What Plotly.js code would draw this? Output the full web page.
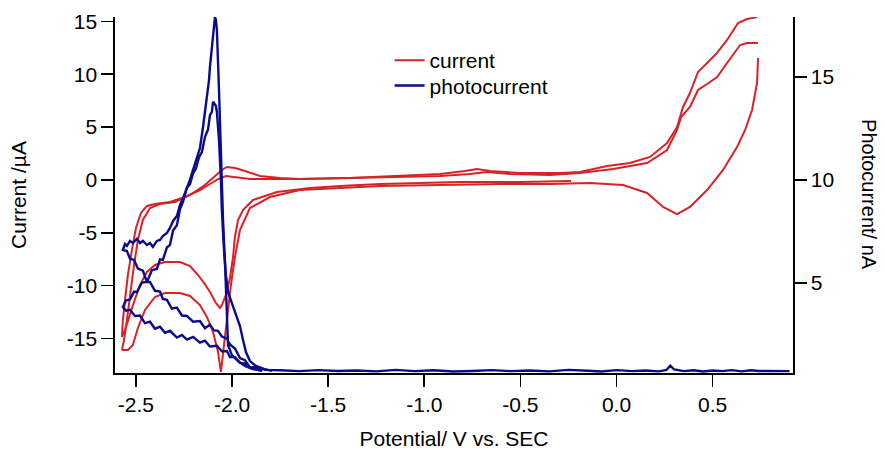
<!DOCTYPE html>
<html>
<head>
<meta charset="utf-8">
<script src="https://cdn.plot.ly/plotly-3.0.1.min.js"></script>
<style>html,body{margin:0;padding:0;background:#fff;}#chart{width:887px;height:455px;}</style>
</head>
<body>
<div id="chart"></div>
<script>
// ---- current (µA) vs potential (V), sweeps separated by null ----
const sweepN1_V = [-0.237,-0.502,-0.814,-1.022,-1.230,-1.439,-1.595,-1.766,-1.891,-1.943,-1.969,-1.985,-1.995,-2.011,-2.032,-2.053,-2.063,-2.084,-2.115,-2.146,-2.177,-2.219,-2.271,-2.349,-2.401,-2.443,-2.479,-2.510,-2.536,-2.557,-2.573];
const sweepN1_I = [-0.09,-0.19,-0.19,-0.28,-0.38,-0.57,-0.76,-1.14,-1.89,-2.84,-3.78,-5.39,-7.29,-9.27,-10.88,-11.83,-12.11,-11.64,-10.60,-9.74,-8.99,-8.14,-7.76,-7.76,-8.04,-8.70,-9.93,-11.54,-13.06,-14.19,-14.85];

const sweepP1_V = [-2.573,-2.568,-2.557,-2.542,-2.521,-2.500,-2.474,-2.443,-2.401,-2.323,-2.245,-2.167,-2.115,-2.073,-2.032,-1.985,-1.907,-1.777,-1.647,-1.387,-1.126,-0.918,-0.762,-0.674,-0.554,-0.346,-0.190,-0.018,0.159,0.263,0.315,0.336,0.382,0.424,0.471,0.523,0.575,0.643,0.679,0.736];
const sweepP1_I = [-14.85,-13.25,-11.35,-8.99,-6.62,-4.54,-3.12,-2.46,-2.27,-2.08,-1.61,-0.95,-0.38,0.09,0.38,0.28,0.09,0.09,0.09,0.19,0.28,0.38,0.57,0.76,0.57,0.47,0.66,1.04,1.61,2.84,4.73,5.96,6.91,8.51,9.08,9.74,11.07,12.77,12.96,12.96];

const sweepN2_V = [0.736,0.731,0.705,0.669,0.627,0.554,0.471,0.382,0.315,0.242,0.159,0.034,-0.138,-0.346,-0.606,-0.866,-1.022,-1.230,-1.439,-1.647,-1.803,-1.907,-1.959,-1.985,-2.006,-2.027,-2.042,-2.058,-2.073,-2.099,-2.131,-2.167,-2.219,-2.271,-2.349,-2.401,-2.453,-2.490,-2.516,-2.542,-2.573];
const sweepN2_I = [11.54,9.18,6.62,4.73,3.12,0.95,-0.95,-2.55,-3.22,-2.55,-1.23,-0.47,-0.28,-0.38,-0.38,-0.47,-0.47,-0.57,-0.76,-0.95,-1.61,-2.65,-4.73,-7.29,-9.93,-13.25,-15.61,-18.16,-16.27,-14.38,-12.96,-11.83,-10.97,-10.69,-10.69,-11.07,-12.30,-14.00,-15.61,-16.08,-16.08];

const sweepP2_V = [-2.573,-2.562,-2.547,-2.531,-2.510,-2.490,-2.464,-2.427,-2.375,-2.297,-2.219,-2.141,-2.089,-2.053,-2.027,-1.985,-1.933,-1.855,-1.751,-1.647,-1.387,-1.126,-0.918,-0.788,-0.726,-0.658,-0.502,-0.294,-0.190,-0.049,0.070,0.174,0.263,0.315,0.346,0.382,0.424,0.471,0.523,0.575,0.632,0.679,0.731];
const sweepP2_I = [-16.08,-15.14,-13.25,-10.88,-8.04,-5.68,-3.78,-2.65,-2.27,-2.08,-1.42,-0.47,0.38,0.95,1.23,1.14,0.85,0.38,0.19,0.09,0.19,0.38,0.57,0.85,1.04,0.85,0.66,0.66,0.76,1.32,1.61,2.18,3.50,5.01,6.91,8.23,10.22,11.07,12.02,13.25,14.85,15.23,15.42];

// ---- photocurrent (nA) vs potential (V) ----
const baseV = [0.90,0.80,0.74,0.70,0.65,0.60,0.55,0.50,0.45,0.40,0.35,0.30,0.28,0.26,0.22,0.15,0.08,0.00,-0.08,-0.15,-0.25,-0.35,-0.45,-0.55,-0.65,-0.75,-0.85,-0.95,-1.05,-1.15,-1.25,-1.35,-1.45,-1.55,-1.65,-1.75,-1.83];
const baseN = [0.72,0.72,0.73,0.76,0.71,0.77,0.72,0.75,0.70,0.76,0.72,0.80,0.98,0.78,0.71,0.75,0.72,0.77,0.70,0.74,0.78,0.71,0.75,0.72,0.77,0.73,0.70,0.76,0.72,0.78,0.71,0.75,0.73,0.77,0.72,0.76,0.78];

const photoB3_V = [-1.829,-1.870,-1.907,-1.933,-1.959,-1.985,-2.011,-2.027,-2.053,-2.073,-2.094,-2.115,-2.141,-2.167,-2.203,-2.235,-2.261,-2.287,-2.313,-2.339,-2.360,-2.375,-2.401,-2.427,-2.443,-2.464,-2.490,-2.510,-2.531,-2.547,-2.568];
const photoB3_N = [0.78,0.92,0.90,1.25,1.35,1.82,2.02,2.30,2.40,2.68,2.70,2.98,2.80,3.15,3.12,3.40,3.42,3.80,3.75,4.18,4.22,4.58,4.62,5.05,5.05,5.60,5.70,6.12,6.18,6.55,6.60];

const photoB1_V = [-2.568,-2.557,-2.547,-2.531,-2.516,-2.495,-2.479,-2.464,-2.443,-2.427,-2.412,-2.391,-2.375,-2.360,-2.339,-2.323,-2.307,-2.287,-2.271,-2.255,-2.235,-2.219,-2.203,-2.188,-2.167,-2.151,-2.141,-2.131,-2.120,-2.115,-2.105,-2.099,-2.094,-2.089];
const photoB1_N = [6.60,6.89,6.80,7.04,6.94,7.14,6.94,7.04,6.84,6.94,6.75,7.04,7.09,7.28,7.43,7.67,8.01,8.25,8.79,9.13,9.61,10.00,10.49,10.97,11.55,12.57,13.30,14.22,14.85,15.49,16.31,16.80,17.52,17.91];

const dropA_V = [-2.089,-2.084,-2.079,-2.068,-2.058,-2.047,-2.037,-2.032,-2.027,-2.021,-2.001,-1.969,-1.933,-1.896,-1.844];
const dropA_N = [17.91,17.77,17.28,14.37,10.97,8.06,6.02,4.90,3.20,1.99,1.50,1.21,0.97,0.83,0.73];

const photoB4_V = [-1.844,-1.881,-1.907,-1.933,-1.959,-1.985,-2.011,-2.027,-2.053,-2.079,-2.115,-2.141,-2.167,-2.203,-2.235,-2.261,-2.287,-2.323,-2.349,-2.375,-2.401,-2.427,-2.453,-2.479,-2.505,-2.531,-2.552,-2.568];
const photoB4_N = [0.73,0.90,0.88,1.10,1.12,1.40,1.40,1.70,1.68,1.95,1.92,2.20,2.10,2.38,2.25,2.48,2.35,2.68,2.58,2.88,2.78,3.12,3.05,3.42,3.40,3.70,3.66,3.83];

const photoB2_V = [-2.568,-2.552,-2.531,-2.510,-2.495,-2.469,-2.443,-2.417,-2.391,-2.375,-2.360,-2.339,-2.323,-2.307,-2.287,-2.271,-2.255,-2.235,-2.219,-2.203,-2.188,-2.172,-2.157,-2.141,-2.125,-2.115,-2.105,-2.099,-2.094];
const photoB2_N = [3.83,4.15,4.20,4.58,4.55,5.02,5.05,5.62,5.68,6.15,6.12,6.72,6.85,7.55,7.80,8.58,8.95,9.62,9.80,10.32,10.55,11.10,11.35,12.08,12.45,13.15,13.30,13.80,13.74];

const dropB_V = [-2.094,-2.084,-2.079,-2.073,-2.068,-2.058,-2.053,-2.042,-2.032,-2.021,-2.001,-1.980,-1.959,-1.943,-1.928,-1.907,-1.876,-1.834,-1.792];
const dropB_N = [13.74,13.59,13.30,12.67,11.94,10.00,8.54,6.60,5.39,4.56,4.03,3.50,2.91,2.23,1.65,1.21,0.97,0.83,0.73];

// ---- tick labels ----
const xTickVals = [-2.5,-2.0,-1.5,-1.0,-0.5,0.0,0.5];
const xTickText = ["-2.5","-2.0","-1.5","-1.0","-0.5","0.0","0.5"];
const yTickVals = [-15,-10,-5,0,5,10,15];
const yTickText = ["-15","-10","-5","0","5","10","15"];
const y2TickVals = [5,10,15];
const y2TickText = ["5","10","15"];

function join(parts){ const out=[]; parts.forEach((p,i)=>{ if(i>0) out.push(null); out.push(...p); }); return out; }

const redX = join([sweepN1_V, sweepP1_V, sweepN2_V, sweepP2_V]);
const redY = join([sweepN1_I, sweepP1_I, sweepN2_I, sweepP2_I]);
const blueX = join([baseV.concat(photoB3_V, photoB1_V, dropA_V), photoB4_V.concat(photoB2_V, dropB_V)]);
const blueY = join([baseN.concat(photoB3_N, photoB1_N, dropA_N), photoB4_N.concat(photoB2_N, dropB_N)]);

const RED = '#d62328';
const BLUE = '#0b0b8c';
const FONT = 'Liberation Sans, Arial, sans-serif';
const FS = 21;

const traces = [
  {x: redX, y: redY, type: 'scatter', mode: 'lines', name: 'current', connectgaps: false,
   line: {color: RED, width: 2}, yaxis: 'y', legend: 'legend'},
  {x: blueX, y: blueY, type: 'scatter', mode: 'lines', name: 'photocurrent', connectgaps: false,
   line: {color: BLUE, width: 2.4}, yaxis: 'y2', legend: 'legend2'}
];

const axisCommon = {showgrid: false, zeroline: false, showline: true, linecolor: '#000', linewidth: 1.6,
  ticks: 'outside', ticklen: 12, tickwidth: 1.6, tickcolor: '#000',
  tickfont: {family: FONT, size: FS, color: '#000'}};

const legendCommon = {xanchor: 'left', yanchor: 'top', bgcolor: 'rgba(0,0,0,0)',
  font: {family: FONT, size: FS, color: '#000'}};

const layout = {
  width: 887, height: 455,
  margin: {l: 115, r: 94, t: 17, b: 82},
  paper_bgcolor: '#fff', plot_bgcolor: '#fff',
  font: {family: FONT, color: '#000'},
  showlegend: true,
  legend: Object.assign({}, legendCommon, {x: 0.405, y: 0.935}),
  legend2: Object.assign({}, legendCommon, {x: 0.405, y: 0.864}),
  xaxis: Object.assign({}, axisCommon, {range: [-2.609, 0.918], tickmode: 'array', tickvals: xTickVals, ticktext: xTickText,
    title: {text: 'Potential/ V vs. SEC', font: {family: FONT, size: FS, color: '#000'}, standoff: 16}}),
  yaxis: Object.assign({}, axisCommon, {range: [-18.26, 15.42], tickmode: 'array', tickvals: yTickVals, ticktext: yTickText,
    title: {text: 'Current /µA', font: {family: FONT, size: FS, color: '#000'}, standoff: 34}}),
  yaxis2: Object.assign({}, axisCommon, {range: [0.63, 17.91], overlaying: 'y', side: 'right', tickmode: 'array',
    tickvals: y2TickVals, ticktext: y2TickText}),
  annotations: [{text: 'Photocurrent/ nA', xref: 'paper', yref: 'paper', x: 1.112, y: 0.5, showarrow: false,
    textangle: 90, font: {family: FONT, size: 20, color: '#000'}, xanchor: 'center', yanchor: 'middle'}]
};

Plotly.newPlot('chart', traces, layout, {displayModeBar: false, staticPlot: true});
</script>
</body>
</html>
